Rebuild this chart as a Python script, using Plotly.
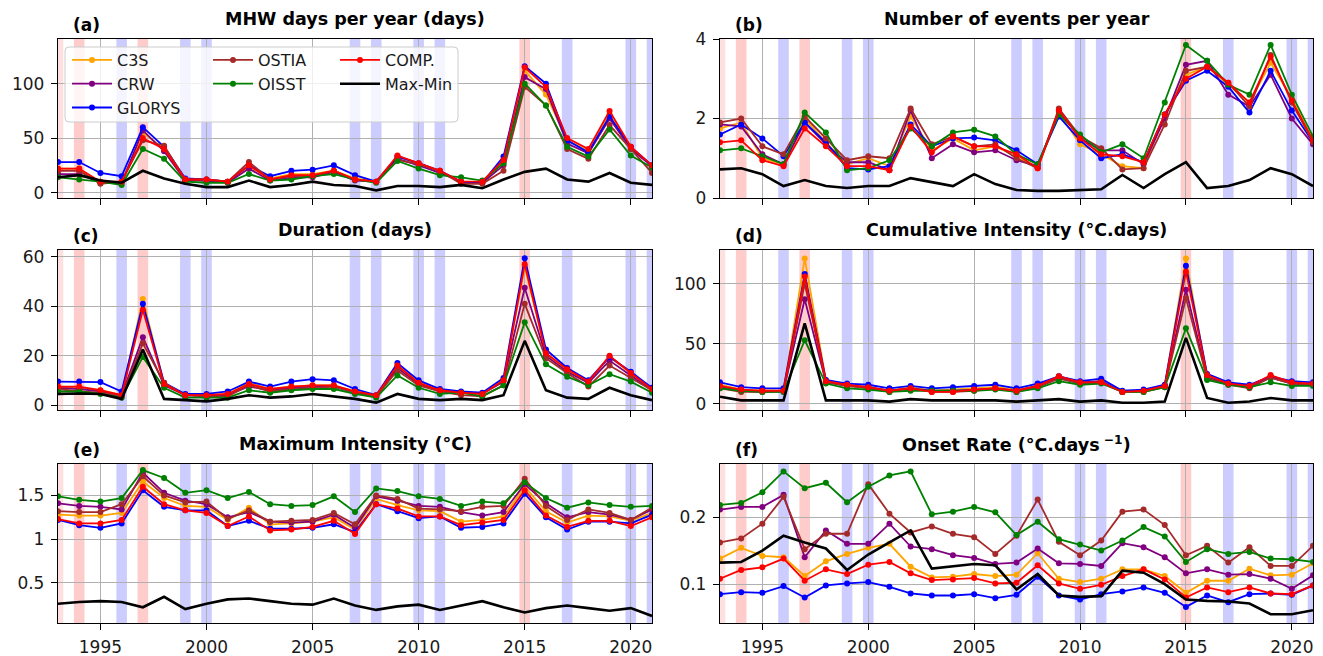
import plotly.graph_objects as go

years = list(range(1993, 2022))
names = ["C3S", "CRW", "GLORYS", "OSTIA", "OISST", "COMP.", "Max-Min"]
colors = ["#FFA500", "#800080", "#0000FF", "#A52A2A", "#008000", "#FF0000", "#000000"]

red_years = [1994, 1997, 2015]
pale_red_years = [1993]
blue_years = [1996, 1999, 2000, 2007, 2008, 2010, 2011, 2017, 2020, 2021]

# (a) MHW days per year
a_c3s = [22, 22, 9, 9, 55, 40, 12, 11, 10, 24, 13, 17, 17, 20, 13, 10, 33, 27, 20, 9, 9, 28, 112, 90, 48, 38, 72, 42, 25]
a_crw = [17, 17, 9, 9, 57, 38, 11, 11, 9, 22, 11, 14, 14, 19, 11, 10, 31, 25, 18, 10, 9, 25, 106, 95, 45, 36, 68, 40, 24]
a_glorys = [28, 28, 18, 15, 60, 42, 13, 12, 10, 25, 15, 20, 21, 25, 16, 10, 33, 27, 20, 10, 9, 33, 116, 100, 48, 37, 70, 42, 25]
a_ostia = [20, 20, 8, 10, 48, 43, 12, 12, 10, 28, 12, 15, 15, 20, 12, 10, 30, 26, 20, 8, 8, 20, 97, 80, 40, 31, 62, 40, 18]
a_oisst = [14, 12, 10, 7, 40, 31, 10, 9, 9, 17, 11, 12, 15, 17, 12, 9, 29, 22, 16, 14, 11, 27, 100, 80, 42, 33, 58, 34, 23]
a_comp = [22, 22, 10, 10, 50, 40, 12, 12, 10, 25, 12, 16, 16, 20, 12, 10, 34, 27, 20, 10, 10, 30, 115, 97, 50, 40, 75, 42, 25]
a_maxmin = [14, 16, 11, 9, 20, 13, 8, 5, 5, 11, 5, 7, 10, 7, 6, 2, 6, 6, 5, 7, 4, 12, 19, 22, 12, 10, 18, 9, 7]

# (b) Number of events per year
b_c3s = [1.75, 1.9, 1.0, 0.85, 2.0, 1.4, 0.85, 1.0, 0.8, 2.05, 1.2, 1.5, 1.2, 1.3, 1.05, 0.75, 2.15, 1.35, 1.1, 0.8, 0.75, 2.1, 3.1, 3.3, 2.85, 2.4, 3.4, 2.5, 1.45]
b_crw = [1.85, 1.8, 1.1, 0.85, 1.9, 1.35, 0.9, 0.9, 0.7, 2.2, 1.0, 1.35, 1.15, 1.2, 0.95, 0.8, 2.2, 1.5, 1.2, 1.2, 0.85, 2.0, 3.35, 3.45, 2.6, 2.3, 3.1, 2.0, 1.35]
b_glorys = [1.6, 1.85, 1.5, 1.05, 1.9, 1.4, 0.75, 0.72, 0.8, 1.85, 1.3, 1.5, 1.52, 1.45, 1.2, 0.85, 2.05, 1.45, 1.0, 1.1, 0.9, 2.1, 2.95, 3.2, 2.8, 2.15, 3.2, 2.2, 1.4]
b_ostia = [1.9, 2.0, 1.3, 1.1, 2.05, 1.5, 0.95, 1.05, 1.0, 2.25, 1.35, 1.55, 1.3, 1.35, 1.0, 0.75, 2.25, 1.55, 1.25, 0.72, 0.75, 1.85, 3.2, 3.3, 2.9, 2.3, 3.6, 2.4, 1.4]
b_oisst = [1.2, 1.25, 1.05, 0.85, 2.15, 1.65, 0.7, 0.75, 0.95, 1.75, 1.3, 1.65, 1.72, 1.55, 1.1, 0.85, 2.1, 1.6, 1.15, 1.35, 1.0, 2.4, 3.85, 3.45, 2.85, 2.6, 3.85, 2.6, 1.55]
b_comp = [1.4, 1.45, 0.95, 0.8, 1.75, 1.3, 0.8, 0.8, 0.7, 1.8, 1.15, 1.55, 1.3, 1.3, 1.1, 0.75, 2.2, 1.5, 1.1, 1.05, 0.9, 2.1, 3.0, 3.3, 2.9, 2.4, 3.55, 2.45, 1.45]
b_maxmin = [0.72, 0.75, 0.6, 0.3, 0.45, 0.3, 0.25, 0.3, 0.3, 0.5, 0.4, 0.3, 0.6, 0.35, 0.2, 0.18, 0.18, 0.2, 0.22, 0.58, 0.25, 0.6, 0.9, 0.25, 0.3, 0.45, 0.75, 0.6, 0.3]

# (c) Duration (days)
c_c3s = [7.5, 7, 6, 4, 43, 8.5, 4, 4, 4.5, 9, 6.5, 7.5, 8, 8, 5.5, 4, 16, 9.5, 6, 5, 4.5, 10, 56, 21, 14, 9.5, 19.5, 13, 6.5]
c_crw = [7, 6.5, 5.5, 4, 27.5, 8, 4, 3.5, 4, 7.5, 6, 7, 7.5, 7.5, 5, 3.5, 15, 8.5, 5.5, 5, 4.5, 9.5, 47.5, 20, 13.5, 9, 18, 12, 6]
c_glorys = [9.5, 9.5, 9.3, 5.5, 41, 9, 4.5, 4.5, 5.5, 9.5, 7.5, 9.5, 10.5, 10, 6.5, 4, 17, 10, 6.5, 5.5, 5, 11, 59.5, 22.5, 15, 10, 19.5, 13.5, 7]
c_ostia = [6.5, 5.5, 5, 3.5, 25, 9, 4, 3.5, 3.5, 8, 5.5, 6.5, 7, 7.5, 5, 3.5, 14, 8, 5.5, 4, 3.5, 8, 41, 19, 13, 7.5, 16, 11, 6]
c_oisst = [5.5, 5.5, 4.5, 3, 19.5, 7, 3, 3, 3, 6, 5, 6, 6.5, 6.5, 4.5, 3, 12, 7, 4.5, 5, 3.5, 8, 33.5, 16.5, 11.5, 8, 12.5, 9.5, 5]
c_comp = [7.5, 7.5, 6, 4, 38.5, 8.5, 4, 4, 4.5, 8.5, 6.5, 7.5, 8, 8, 5.5, 4, 16, 9, 6, 5, 4.5, 10, 57, 21, 14.5, 9.5, 20, 13, 6.5]
c_maxmin = [4.5, 4.7, 4.5, 2.5, 22.5, 2.5, 2, 1.5, 2.5, 4, 3, 3.5, 4.5, 3.5, 2.5, 1, 4.5, 2.5, 2, 2.5, 2, 4, 26, 6, 3, 2.5, 7, 4, 2]

# (d) Cumulative Intensity (degC.days)
d_c3s = [16, 12, 11, 11, 121, 20, 15, 14, 11, 14, 11, 12, 13, 14, 12, 15, 23, 18, 19, 10, 11, 15, 121, 23, 17, 15, 23, 18, 16]
d_crw = [14, 11, 10, 11, 87, 18, 15, 14, 11, 13, 11, 11, 12, 13, 11, 15, 22, 18, 19, 10, 11, 15, 95, 22, 17, 14, 22, 17, 16]
d_glorys = [18, 14, 13, 13, 108, 20, 17, 16, 13, 15, 13, 14, 15, 16, 13, 17, 23, 19, 21, 11, 12, 16, 115, 25, 18, 16, 23, 19, 18]
d_ostia = [13, 10, 10, 10, 100, 18, 15, 13, 10, 13, 10, 10, 11, 13, 10, 14, 21, 17, 18, 10, 10, 14, 88, 21, 16, 13, 22, 17, 16]
d_oisst = [13, 11, 10, 10, 53, 17, 13, 12, 10, 11, 11, 11, 11, 12, 10, 13, 19, 16, 17, 10, 10, 14, 63, 20, 16, 14, 18, 15, 15]
d_comp = [15, 12, 11, 11, 106, 19, 16, 14, 11, 13, 10, 10, 12, 13, 11, 15, 23, 18, 18, 10, 11, 15, 110, 24, 17, 15, 24, 18, 17]
d_maxmin = [6, 3, 3, 3, 67, 3, 3, 3, 2, 4, 3, 3, 3, 3, 2, 3, 4, 2, 3, 1, 1, 2, 55, 5, 1, 2, 5, 3, 3]

# (e) Maximum Intensity (degC)
e_c3s = [1.28, 1.27, 1.27, 1.30, 1.66, 1.47, 1.38, 1.37, 1.22, 1.36, 1.17, 1.18, 1.20, 1.25, 1.11, 1.46, 1.39, 1.33, 1.32, 1.20, 1.22, 1.26, 1.60, 1.32, 1.19, 1.27, 1.26, 1.21, 1.30]
e_crw = [1.41, 1.38, 1.37, 1.34, 1.76, 1.53, 1.44, 1.40, 1.25, 1.31, 1.20, 1.19, 1.20, 1.28, 1.13, 1.49, 1.44, 1.38, 1.37, 1.31, 1.27, 1.31, 1.63, 1.41, 1.25, 1.31, 1.28, 1.22, 1.34]
e_glorys = [1.22, 1.16, 1.13, 1.18, 1.56, 1.37, 1.33, 1.33, 1.15, 1.21, 1.12, 1.12, 1.13, 1.17, 1.08, 1.40, 1.32, 1.24, 1.26, 1.13, 1.14, 1.18, 1.52, 1.25, 1.11, 1.20, 1.20, 1.18, 1.28]
e_ostia = [1.32, 1.31, 1.31, 1.40, 1.72, 1.50, 1.42, 1.43, 1.23, 1.33, 1.20, 1.21, 1.22, 1.30, 1.17, 1.50, 1.46, 1.35, 1.34, 1.32, 1.37, 1.38, 1.69, 1.38, 1.22, 1.34, 1.30, 1.22, 1.36]
e_oisst = [1.49, 1.45, 1.43, 1.47, 1.79, 1.70, 1.53, 1.56, 1.47, 1.54, 1.40, 1.38, 1.39, 1.49, 1.31, 1.58, 1.55, 1.49, 1.46, 1.38, 1.43, 1.41, 1.65, 1.47, 1.36, 1.42, 1.39, 1.37, 1.38]
e_comp = [1.23, 1.18, 1.18, 1.22, 1.60, 1.40, 1.33, 1.30, 1.15, 1.26, 1.10, 1.11, 1.14, 1.21, 1.06, 1.40, 1.35, 1.26, 1.26, 1.16, 1.19, 1.22, 1.56, 1.27, 1.14, 1.21, 1.21, 1.15, 1.25]
e_maxmin = [0.26, 0.28, 0.29, 0.28, 0.22, 0.34, 0.20, 0.26, 0.31, 0.32, 0.29, 0.26, 0.25, 0.32, 0.24, 0.19, 0.23, 0.25, 0.19, 0.24, 0.29, 0.22, 0.16, 0.21, 0.24, 0.21, 0.18, 0.21, 0.12]

# (f) Onset Rate (degC.days^-1)
f_c3s = [0.138, 0.154, 0.142, 0.140, 0.112, 0.134, 0.145, 0.154, 0.160, 0.126, 0.110, 0.111, 0.115, 0.112, 0.114, 0.146, 0.108, 0.103, 0.108, 0.122, 0.122, 0.112, 0.087, 0.105, 0.105, 0.123, 0.113, 0.114, 0.131]
f_crw = [0.211, 0.215, 0.215, 0.233, 0.140, 0.180, 0.160, 0.160, 0.190, 0.156, 0.152, 0.143, 0.139, 0.130, 0.132, 0.153, 0.131, 0.130, 0.127, 0.161, 0.155, 0.140, 0.116, 0.122, 0.114, 0.115, 0.108, 0.093, 0.113]
f_glorys = [0.085, 0.088, 0.087, 0.097, 0.080, 0.098, 0.101, 0.103, 0.096, 0.086, 0.083, 0.083, 0.085, 0.079, 0.084, 0.111, 0.083, 0.077, 0.085, 0.089, 0.095, 0.087, 0.066, 0.083, 0.073, 0.085, 0.086, 0.084, 0.098]
f_ostia = [0.162, 0.168, 0.190, 0.230, 0.152, 0.175, 0.175, 0.249, 0.205, 0.177, 0.186, 0.175, 0.170, 0.145, 0.172, 0.226, 0.163, 0.143, 0.165, 0.208, 0.211, 0.188, 0.143, 0.157, 0.132, 0.155, 0.127, 0.127, 0.157]
f_oisst = [0.218, 0.221, 0.237, 0.268, 0.243, 0.251, 0.222, 0.245, 0.262, 0.268, 0.204, 0.208, 0.215, 0.207, 0.173, 0.193, 0.167, 0.159, 0.150, 0.165, 0.185, 0.171, 0.133, 0.152, 0.145, 0.148, 0.138, 0.137, 0.133]
f_comp = [0.108, 0.121, 0.125, 0.138, 0.105, 0.122, 0.115, 0.129, 0.133, 0.116, 0.106, 0.107, 0.109, 0.101, 0.102, 0.128, 0.101, 0.093, 0.099, 0.112, 0.122, 0.107, 0.080, 0.095, 0.088, 0.095, 0.086, 0.085, 0.098]
f_maxmin = [0.132, 0.133, 0.150, 0.172, 0.162, 0.153, 0.121, 0.144, 0.162, 0.180, 0.123, 0.126, 0.130, 0.128, 0.092, 0.115, 0.083, 0.081, 0.082, 0.120, 0.117, 0.100, 0.077, 0.075, 0.074, 0.071, 0.055, 0.055, 0.061]

panels = [
    ("(a)", "MHW days per year (days)", [a_c3s, a_crw, a_glorys, a_ostia, a_oisst, a_comp, a_maxmin], [-5, 141], [0, 50, 100]),
    ("(b)", "Number of events per year", [b_c3s, b_crw, b_glorys, b_ostia, b_oisst, b_comp, b_maxmin], [0, 4.0], [0, 2, 4]),
    ("(c)", "Duration (days)", [c_c3s, c_crw, c_glorys, c_ostia, c_oisst, c_comp, c_maxmin], [-2, 62.8], [0, 20, 40, 60]),
    ("(d)", "Cumulative Intensity (°C.days)", [d_c3s, d_crw, d_glorys, d_ostia, d_oisst, d_comp, d_maxmin], [-5, 128], [0, 50, 100]),
    ("(e)", "Maximum Intensity (°C)", [e_c3s, e_crw, e_glorys, e_ostia, e_oisst, e_comp, e_maxmin], [0.04, 1.86], [0.5, 1.0, 1.5]),
    ("(f)", "Onset Rate (°C.days<sup> −1</sup>)", [f_c3s, f_crw, f_glorys, f_ostia, f_oisst, f_comp, f_maxmin], [0.042, 0.279], [0.1, 0.2]),
]

# page body has an 8px margin: lay out in screenshot pixels, then shift
OFF = 8
W, H = 1323 - OFF, 656 - OFF
col_px = [(58, 652), (720, 1313)]
row_px = [(39, 198), (250, 410), (464, 623)]

def px(x):
    return (x - OFF) / W

def py(y):
    return 1 - (y - OFF) / H

FONT = "DejaVu Sans"
fig = go.Figure()
legend_of = {"C3S": "legend", "CRW": "legend", "GLORYS": "legend",
             "OSTIA": "legend2", "OISST": "legend2",
             "COMP.": "legend3", "Max-Min": "legend3"}

layout = dict(width=W, height=H, margin=dict(l=0, r=0, t=0, b=0, autoexpand=False),
              paper_bgcolor="white", plot_bgcolor="white",
              font=dict(family=FONT, size=17, color="#000000"))
shapes = []
annotations = []

for i, (lab, title, series, yr, yt) in enumerate(panels):
    r, c = divmod(i, 2)
    n = i + 1
    xa = "x" if n == 1 else f"x{n}"
    ya = "y" if n == 1 else f"y{n}"
    x0p, x1p = col_px[c]
    y0p, y1p = row_px[r]
    layout["xaxis" if n == 1 else f"xaxis{n}"] = dict(
        domain=[px(x0p), px(x1p)], anchor=ya, range=[1993, 2021],
        tick0=1995, dtick=5, showgrid=True, gridcolor="#b0b0b0", gridwidth=1,
        showline=True, linecolor="black", linewidth=1.3, mirror=True,
        ticks="outside", ticklen=6, tickwidth=1.2, tickcolor="black",
        showticklabels=(r == 2), tickfont=dict(size=17, color="#1a1a1a"),
        zeroline=False, automargin=False, ticklabelstandoff=2)
    layout["yaxis" if n == 1 else f"yaxis{n}"] = dict(
        domain=[py(y1p), py(y0p)], anchor=xa, range=yr,
        tickvals=yt, showgrid=True, gridcolor="#b0b0b0", gridwidth=1,
        showline=True, linecolor="black", linewidth=1.3, mirror=True,
        ticks="outside", ticklen=6, tickwidth=1.2, tickcolor="black",
        tickfont=dict(size=17, color="#1a1a1a"), zeroline=False,
        ticklabelstandoff=3, automargin=False)
    # shaded years
    for yrs, col in ((pale_red_years, "rgba(255,0,0,0.12)"),
                     (red_years, "rgba(255,0,0,0.2)"),
                     (blue_years, "rgba(0,0,255,0.2)")):
        for yy in yrs:
            shapes.append(dict(type="rect", xref=xa, yref=f"{ya} domain",
                               x0=max(yy - 0.25, 1993), x1=min(yy + 0.25, 2021), y0=0, y1=1,
                               fillcolor=col, line=dict(width=0), layer="below"))
    for name, colr, vals in zip(names, colors, series):
        if name == "Max-Min":
            tr = go.Scatter(x=years, y=vals, mode="lines", name=name,
                            line=dict(color=colr, width=2.6))
        else:
            tr = go.Scatter(x=years, y=vals, mode="lines+markers", name=name,
                            line=dict(color=colr, width=1.8),
                            marker=dict(color=colr, size=6))
        tr.update(xaxis=xa, yaxis=ya, showlegend=(i == 0), legend=legend_of[name])
        fig.add_trace(tr)
    cx = (x0p + x1p) / 2
    annotations.append(dict(text=f"<b>{title}</b>", x=px(cx), y=py(y0p - 20),
                            xref="paper", yref="paper", xanchor="center", yanchor="middle",
                            showarrow=False, font=dict(family=FONT, size=17.5, color="black")))
    annotations.append(dict(text=f"<b>{lab}</b>", x=px(x0p + 13), y=py(y0p - 14),
                            xref="paper", yref="paper", xanchor="left", yanchor="middle",
                            showarrow=False, font=dict(family=FONT, size=17, color="black")))

# legend frame (rounded)
lx0, lx1, ly0, ly1 = 65, 458, 47, 122
rr = 4
path = (f"M {px(lx0 + rr)},{py(ly0)} L {px(lx1 - rr)},{py(ly0)} "
        f"Q {px(lx1)},{py(ly0)} {px(lx1)},{py(ly0 + rr)} L {px(lx1)},{py(ly1 - rr)} "
        f"Q {px(lx1)},{py(ly1)} {px(lx1 - rr)},{py(ly1)} L {px(lx0 + rr)},{py(ly1)} "
        f"Q {px(lx0)},{py(ly1)} {px(lx0)},{py(ly1 - rr)} L {px(lx0)},{py(ly0 + rr)} "
        f"Q {px(lx0)},{py(ly0)} {px(lx0 + rr)},{py(ly0)} Z")
shapes.append(dict(type="path", xref="paper", yref="paper", path=path,
                   fillcolor="rgba(255,255,255,0.8)", line=dict(color="#cccccc", width=1),
                   layer="above"))

leg_common = dict(bgcolor="rgba(0,0,0,0)", borderwidth=0, xanchor="left", yanchor="top",
                  font=dict(family=FONT, size=16, color="#1a1a1a"), orientation="v",
                  tracegroupgap=0, itemwidth=40)
layout["legend"] = dict(x=px(67), y=py(43), **leg_common)
layout["legend2"] = dict(x=px(208), y=py(43), **leg_common)
layout["legend3"] = dict(x=px(335), y=py(43), **leg_common)
layout["shapes"] = shapes
layout["annotations"] = annotations
fig.update_layout(**layout)
fig.write_html("out.html")
